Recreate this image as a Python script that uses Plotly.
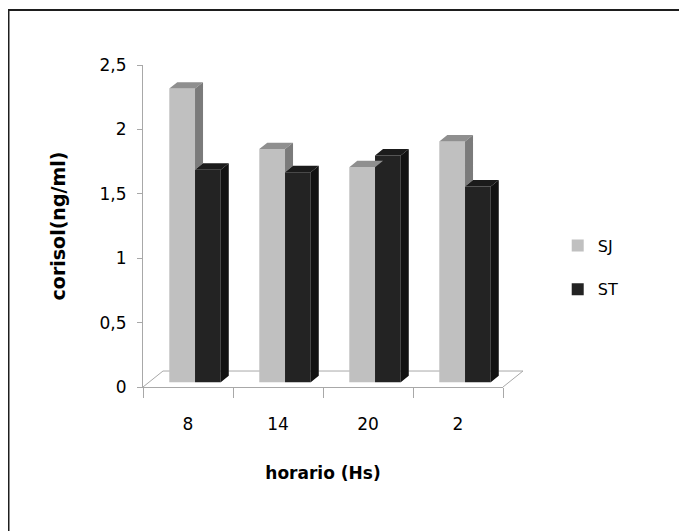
import plotly.graph_objects as go

# ---------------- data ----------------
categories = ["8", "14", "20", "2"]
sj_values = [2.28, 1.81, 1.67, 1.87]
st_values = [1.65, 1.63, 1.76, 1.52]
series_names = ["SJ", "ST"]
y_tick_vals = [0, 0.5, 1, 1.5, 2, 2.5]
y_tick_text = ["0", "0,5", "1", "1,5", "2", "2,5"]
x_title = "horario (Hs)"
y_title = "corisol(ng/ml)"

# ---------------- style / geometry ----------------
# the page body adds an 8px margin, so the figure is 8px smaller and shifted
W, H = 679, 523
M_L, M_T = 135, 57
PW, PH = 360, 322
M_R, M_B = W - M_L - PW, H - M_T - PH
BAR_W = 0.286            # width of each bar (x units)
BX, BY = 0.078, 0.037    # bars sit slightly back on the floor
DX, DY = 0.089, 0.05     # visible depth of each bar
FLOOR_DX, FLOOR_DY = 0.222, 0.124
X_RANGE = [-0.5, len(categories) - 0.5]
Y_RANGE = [0, 2.5]
AXIS_GREY = "#a8a8a8"
FONT = "DejaVu Sans"
COLORS = {
    "SJ": ("#c0c0c0", "#8f8f8f", "#7b7b7b"),
    "ST": ("#232323", "#1b1b1b", "#111111"),
}

series = {"SJ": sj_values, "ST": st_values}
offsets = {"SJ": -BAR_W / 2, "ST": BAR_W / 2}

fig = go.Figure()

# front faces as real bars
for name in series_names:
    fig.add_trace(go.Bar(
        x=[i + BX + offsets[name] for i in range(len(categories))],
        y=series[name], base=BY, width=BAR_W,
        name=name, legendgroup=name,
        marker=dict(color=COLORS[name][0], line=dict(width=0)),
        hoverinfo="skip",
    ))


def top_face(cx, v):
    x0, x1 = cx - BAR_W / 2, cx + BAR_W / 2
    yt = BY + v
    return [x0, x0 + DX, x1 + DX, x1, x0, None], [yt, yt + DY, yt + DY, yt, yt, None]


def side_face(cx, lo, v):
    x1 = cx + BAR_W / 2
    yl, yt = BY + lo, BY + v
    return [x1, x1 + DX, x1 + DX, x1, x1, None], [yl, yl + DY, yt + DY, yt, yl, None]


for name in series_names:
    tx, ty, sx, sy = [], [], [], []
    for i, v in enumerate(series[name]):
        cx = i + BX + offsets[name]
        a, b = top_face(cx, v)
        tx += a; ty += b
        lo = 0.0
        if name == "SJ":
            lo = min(v, st_values[i])  # lower part hidden behind the ST bar
        if lo < v:
            a, b = side_face(cx, lo, v)
            sx += a; sy += b
    fig.add_trace(go.Scatter(x=tx, y=ty, mode="lines", fill="toself",
                             fillcolor=COLORS[name][1], line=dict(width=0),
                             showlegend=False, hoverinfo="skip"))
    fig.add_trace(go.Scatter(x=sx, y=sy, mode="lines", fill="toself",
                             fillcolor=COLORS[name][2], line=dict(width=0),
                             showlegend=False, hoverinfo="skip"))


# floor (in axis-domain coords so it is not clipped)
def xd(x):
    return (x - X_RANGE[0]) / (X_RANGE[1] - X_RANGE[0])


def yd(y):
    return (y - Y_RANGE[0]) / (Y_RANGE[1] - Y_RANGE[0])


floor_path = (f"M{xd(X_RANGE[0])},{yd(0)} L{xd(X_RANGE[0] + FLOOR_DX)},{yd(FLOOR_DY)} "
              f"L{xd(X_RANGE[1] + FLOOR_DX)},{yd(FLOOR_DY)} L{xd(X_RANGE[1])},{yd(0)}")
fig.add_shape(type="path", path=floor_path, xref="x domain", yref="y domain",
              line=dict(color=AXIS_GREY, width=1), layer="below")

# outer chart frame (left and top edges visible)
fx = (0.5 - M_L) / PW
fy = (H - M_B - 2) / PH
fig.add_shape(type="path", path=f"M{fx},-1 L{fx},{fy} L2,{fy}",
              xref="paper", yref="paper", line=dict(color="#1e1e1e", width=2))

fig.update_layout(
    width=W, height=H,
    margin=dict(l=M_L, r=M_R, t=M_T, b=M_B),
    paper_bgcolor="white", plot_bgcolor="white",
    barmode="overlay",
    font=dict(family=FONT, size=17, color="#000"),
    showlegend=True,
    legend=dict(x=1.152, y=0.371, xanchor="left", yanchor="middle",
                tracegroupgap=20, font=dict(size=16, family=FONT),
                bgcolor="rgba(0,0,0,0)"),
    xaxis=dict(range=X_RANGE, tickmode="array",
               tickvals=list(range(len(categories))), ticktext=categories,
               ticks="", showline=True, linecolor=AXIS_GREY, linewidth=1,
               showgrid=False, zeroline=False, ticklabelstandoff=22,
               tickfont=dict(size=17, family=FONT),
               minor=dict(tickmode="array",
                          tickvals=[i - 0.5 for i in range(len(categories) + 1)],
                          ticks="outside", ticklen=10, tickcolor=AXIS_GREY,
                          tickwidth=1, showgrid=False),
               title=dict(text=x_title, standoff=33,
                          font=dict(family=FONT, size=17, weight="bold"))),
    yaxis=dict(range=Y_RANGE, tickmode="array", tickvals=y_tick_vals,
               ticktext=y_tick_text, ticks="outside", ticklen=5,
               tickcolor=AXIS_GREY, showline=True, linecolor=AXIS_GREY,
               linewidth=1, showgrid=False, zeroline=False,
               ticklabelstandoff=7, tickfont=dict(size=17, family=FONT),
               title=dict(text=y_title, standoff=28,
                          font=dict(family=FONT, size=19, weight="bold"))),
)

fig.write_html("out.html")
